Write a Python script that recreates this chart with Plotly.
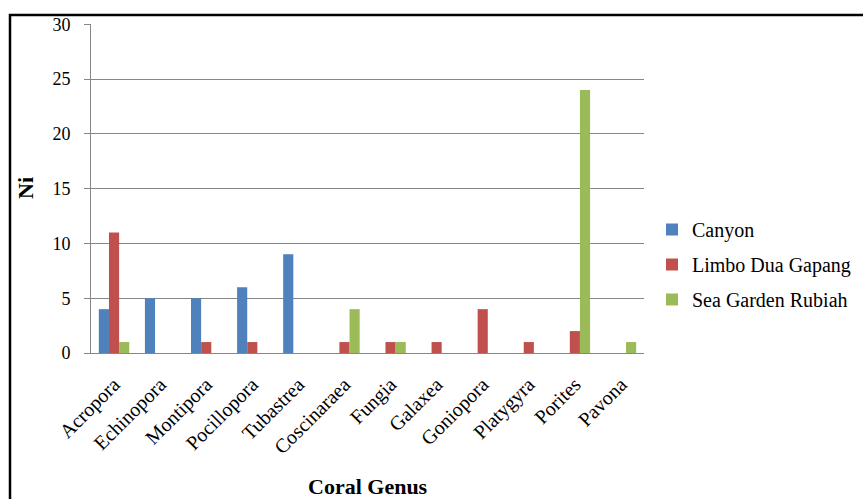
import plotly.graph_objects as go

genera = ["Acropora", "Echinopora", "Montipora", "Pocillopora", "Tubastrea", "Coscinaraea",
          "Fungia", "Galaxea", "Goniopora", "Platygyra", "Porites", "Pavona"]
canyon = [4, 5, 5, 6, 9, 0, 0, 0, 0, 0, 0, 0]
limbo = [11, 0, 1, 1, 0, 1, 1, 1, 4, 1, 2, 0]
seagarden = [1, 0, 0, 0, 0, 4, 1, 0, 0, 0, 24, 1]
series_names = ["Canyon", "Limbo Dua Gapang", "Sea Garden Rubiah"]
colors = ["#4F81BD", "#C0504D", "#9BBB59"]
y_ticks = [0, 5, 10, 15, 20, 25, 30]

serif = "'Liberation Serif', 'DejaVu Serif', serif"

fig = go.Figure()
for name, vals, col in zip(series_names, [canyon, limbo, seagarden], colors):
    fig.add_trace(go.Bar(x=genera, y=vals, name=name, marker_color=col,
                         marker_line_width=0, legendgroup=name))

W, H = 863, 499
L, R, T, B = 91, 219, 24, 146
pw, ph = W - L - R, H - T - B

def px(x):
    return (x - L) / pw

def py(y):
    return (H - B - y) / ph

fig.update_layout(
    width=W, height=H,
    margin=dict(l=L, r=R, t=T, b=B, autoexpand=False),
    paper_bgcolor="white", plot_bgcolor="white",
    barmode="group", bargap=0.34, bargroupgap=0,
    font=dict(family=serif, color="black"),
    showlegend=True,
    legend=dict(x=px(652), y=py(210), xanchor="left", yanchor="top",
                font=dict(size=20, family=serif), tracegroupgap=6,
                itemwidth=30, bgcolor="rgba(0,0,0,0)"),
    xaxis=dict(type="category", tickangle=-45, tickfont=dict(size=20, family=serif),
               showline=True, linecolor="#868686", linewidth=1, showgrid=False,
               ticks="", range=[-0.5, 11.5], ticklabelstandoff=11),
    yaxis=dict(range=[0, 30.02], tickvals=y_ticks, tickfont=dict(size=18, family=serif),
               showgrid=True, gridcolor="#868686", gridwidth=1,
               showline=True, linecolor="#868686", linewidth=1,
               ticks="outside", ticklen=6, tickcolor="#868686", zeroline=False,
               ticklabelstandoff=10),
    annotations=[
        dict(text="<b>Ni</b>", x=px(25), y=py(188), xref="paper", yref="paper",
             xanchor="center", yanchor="middle",
             textangle=-90, showarrow=False, font=dict(size=22, family=serif)),
        dict(text="<b>Coral Genus</b>", x=px(368), y=py(472), xref="paper", yref="paper",
             xanchor="center", yanchor="top", showarrow=False, font=dict(size=22, family=serif)),
    ],
    shapes=[
        dict(type="rect", xref="paper", yref="paper",
             x0=px(10), x1=px(880), y0=py(530), y1=py(15),
             line=dict(color="black", width=2.5), fillcolor="rgba(0,0,0,0)", layer="below"),
    ],
)

fig.write_html("out.html")
